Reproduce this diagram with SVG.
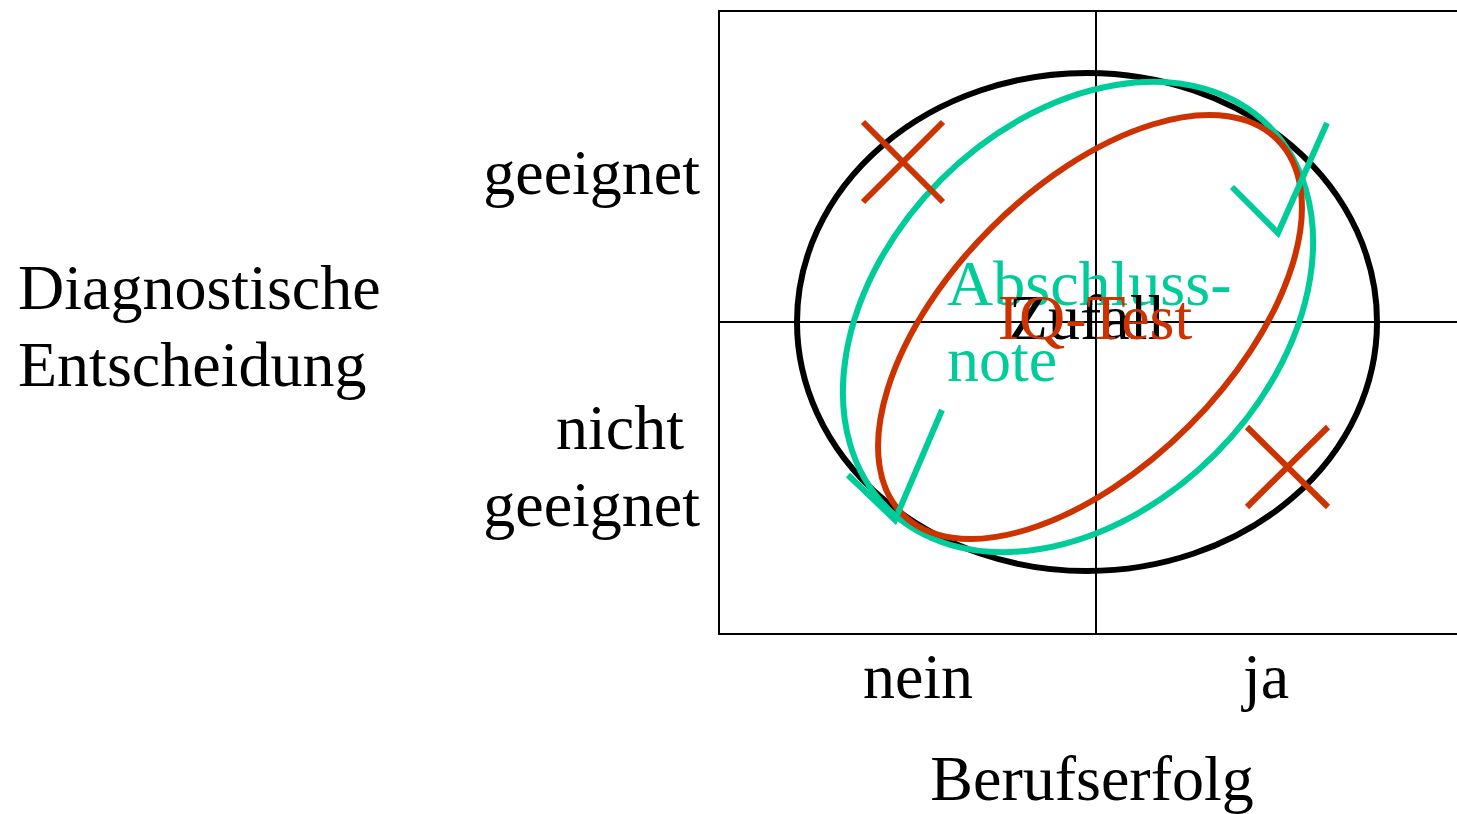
<svg xmlns="http://www.w3.org/2000/svg" width="1457" height="814" viewBox="0 0 1457 814">
<style>
text{font-family:"Liberation Serif","Times New Roman",serif;font-size:64px;fill:#000}
.grid{stroke:#000;stroke-width:2;fill:none}
.ell{fill:none;stroke-width:6}
.g{stroke:#00CC99}
.r{stroke:#CC3300}
.mark{fill:none;stroke-width:6}
</style>
<rect width="1457" height="814" fill="#fff"/>
<g id="axes">
<path class="grid" d="M1470 11 H719 V634 H1470"/>
<line class="grid" x1="1096" y1="11" x2="1096" y2="634"/>
<line class="grid" x1="719" y1="322" x2="1470" y2="322"/>
</g>
<g id="labels">
<text x="18" y="309">Diagnostische</text>
<text x="18" y="386">Entscheidung</text>
<text x="700" y="194" text-anchor="end">geeignet</text>
<text x="684" y="449" text-anchor="end">nicht</text>
<text x="700" y="526" text-anchor="end">geeignet</text>
<text x="918" y="698" text-anchor="middle">nein</text>
<text x="1266" y="698" text-anchor="middle">ja</text>
<text x="1092" y="800" text-anchor="middle">Berufserfolg</text>
</g>
<g id="zufall">
<ellipse class="ell" cx="1087" cy="322" rx="290" ry="249" stroke="#000"/>
</g>
<g id="abschlussnote">
<ellipse class="ell g" cx="1078" cy="317" rx="270" ry="194" transform="rotate(-45 1078 317)"/>
</g>
<g id="iqtest">
<ellipse class="ell r" cx="1090" cy="327" rx="265" ry="140" transform="rotate(-45 1090 327)"/>
</g>
<g id="marks">
<path class="mark r" d="M863 122 L943 202 M943 122 L863 202"/>
<path class="mark r" d="M1247 427 L1328 507 M1328 427 L1247 507"/>
<path class="mark g" d="M1232 187 L1278 233 L1327 123"/>
<path class="mark g" d="M848 475 L895 520 L942 410"/>
</g>
<g id="center-labels">
<text x="947" y="305" style="fill:#00CC99">Abschluss-</text>
<text x="947" y="381" style="fill:#00CC99">note</text>
<text x="1087" y="339" text-anchor="middle">Zufall</text>
<text x="1095" y="339" text-anchor="middle" style="fill:#CC3300">IQ-Test</text>
</g>
</svg>
